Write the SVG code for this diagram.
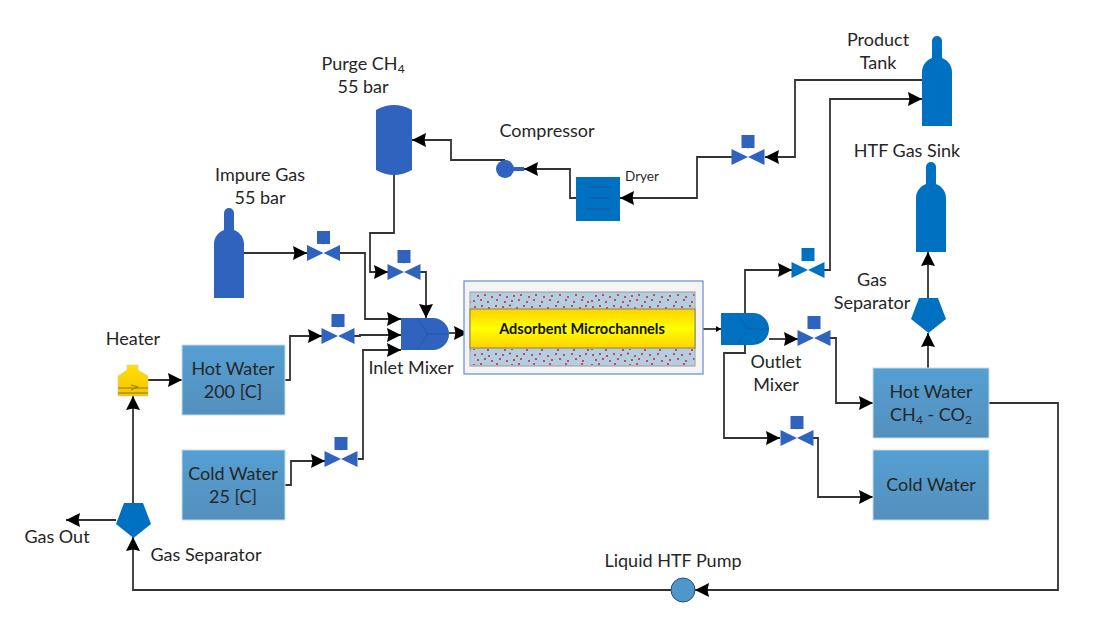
<svg xmlns="http://www.w3.org/2000/svg" width="1098" height="625" viewBox="0 0 1098 625">
<style>
text{font-family:"Lato","Open Sans","Liberation Sans",sans-serif;font-size:18px;fill:#262626;text-anchor:middle}
.c{fill:none;stroke:#333;stroke-width:1.8;marker-end:url(#a)}
.n{fill:none;stroke:#333;stroke-width:1.8}
.b1{fill:#2f63bd}.b2{fill:#0070c0}
.box{fill:url(#bx);stroke:#c9dbe9;stroke-width:1}
.in{fill:none;stroke:#1d4f9a;stroke-width:.8}
</style>
<defs>
<marker id="a" markerUnits="userSpaceOnUse" markerWidth="15" markerHeight="15" refX="14" refY="7.500" orient="auto"><path d="M0 .5L14 7.500L0 14.500L1.500 7.500Z" fill="#000"/></marker>
<marker id="s" markerUnits="userSpaceOnUse" markerWidth="6" markerHeight="6" refX="5" refY="3" orient="auto"><path d="M0 0L5 3L0 6Z" fill="#000"/></marker>
<linearGradient id="bx" x1="0" y1="0" x2="0" y2="1"><stop offset="0" stop-color="#559fd3"/><stop offset="1" stop-color="#5490bd"/></linearGradient>
<linearGradient id="yl" x1="0" y1="0" x2="0" y2="1"><stop offset="0" stop-color="#ffd200"/><stop offset=".5" stop-color="#ffff00"/><stop offset="1" stop-color="#ffd200"/></linearGradient>
<linearGradient id="ht" x1="0" y1="0" x2="0" y2="1"><stop offset="0" stop-color="#ffe000"/><stop offset="1" stop-color="#f5c400"/></linearGradient>
<pattern id="dots" width="118" height="16" patternUnits="userSpaceOnUse">
<rect width="118" height="16" fill="#b5cde0"/>
<g fill="#c8202f">
<circle cx="3" cy="3" r="1"/><circle cx="10" cy="2" r="1"/><circle cx="17" cy="4" r="1"/><circle cx="24" cy="2" r="1"/><circle cx="31" cy="3" r="1"/><circle cx="38" cy="1.500" r="1"/><circle cx="45" cy="4" r="1"/><circle cx="52" cy="2" r="1"/><circle cx="60" cy="3" r="1"/><circle cx="68" cy="2" r="1"/><circle cx="76" cy="4" r="1"/><circle cx="84" cy="2" r="1"/><circle cx="92" cy="3" r="1"/><circle cx="100" cy="2" r="1"/><circle cx="108" cy="4" r="1"/><circle cx="114" cy="2" r="1"/>
<circle cx="6" cy="8" r="1"/><circle cx="13" cy="7" r="1"/><circle cx="20" cy="9" r="1"/><circle cx="28" cy="7" r="1"/><circle cx="35" cy="9" r="1"/><circle cx="42" cy="8" r="1"/><circle cx="49" cy="7" r="1"/><circle cx="57" cy="9" r="1"/><circle cx="64" cy="7" r="1"/><circle cx="72" cy="9" r="1"/><circle cx="80" cy="8" r="1"/><circle cx="88" cy="7" r="1"/><circle cx="96" cy="9" r="1"/><circle cx="104" cy="7" r="1"/><circle cx="111" cy="9" r="1"/>
<circle cx="2" cy="13" r="1"/><circle cx="9" cy="12" r="1"/><circle cx="16" cy="14" r="1"/><circle cx="25" cy="12" r="1"/><circle cx="33" cy="14" r="1"/><circle cx="40" cy="13" r="1"/><circle cx="47" cy="12" r="1"/><circle cx="55" cy="14" r="1"/><circle cx="62" cy="12" r="1"/><circle cx="70" cy="14" r="1"/><circle cx="78" cy="12" r="1"/><circle cx="86" cy="14" r="1"/><circle cx="94" cy="12" r="1"/><circle cx="102" cy="14" r="1"/><circle cx="110" cy="12" r="1"/><circle cx="116" cy="14" r="1"/>
</g>
</pattern>
<g id="valve"><path d="M0 -8V-22" stroke="#c8d4e6" stroke-width="1.500" fill="none"/><rect x="-6.500" y="-22" width="13" height="13" class="b1"/><path d="M-16.500 -8L0 0L-16.500 8ZM16.500 -8L0 0L16.500 8Z" class="b1"/></g>
<g id="valve2"><path d="M0 -8V-22" stroke="#c8d4e6" stroke-width="1.500" fill="none"/><rect x="-6.500" y="-22" width="13" height="13" class="b2"/><path d="M-16.500 -8L0 0L-16.500 8ZM16.500 -8L0 0L16.500 8Z" class="b2"/></g>
<path id="cyl" d="M10 22V5a5 5 0 0 1 10 0V22C26 24 30 30 30 36V90H0V36C0 30 4 24 10 22Z"/>
<path id="sep" d="M8 0H27L35 21L17.500 35L0 21Z"/>
<g id="mixer"><path d="M0 0H32A16 16 0 0 1 32 32H0Z"/><path d="M16 0L27 16L16 32M27 16H47" fill="none" stroke="#1d4f9a" stroke-opacity=".7" stroke-width=".8"/></g>
</defs>
<rect width="1098" height="625" fill="#fff"/>

<g id="connectors">
<path class="c" d="M244 253H307"/>
<path class="c" d="M340 253H365V319H401"/>
<path class="c" d="M394 175V233H370V272H388"/>
<path class="c" d="M420 272H426V318"/>
<path class="c" d="M285 380H290V336H322"/>
<path class="c" d="M354 336H360V335H401"/>
<path class="c" d="M285 485H291V461H325"/>
<path class="c" d="M358 459H363V350H401"/>
<path class="c" d="M449 333H468"/>
<path class="n" style="marker-end:url(#s)" d="M693 329H721"/>
<path class="c" d="M745 313V270H792"/>
<path class="c" d="M824 270H830V99H922"/>
<path class="c" d="M769 339H798"/>
<path class="c" d="M830 338H836V403H873"/>
<path class="c" d="M745 345V353H724V438H780"/>
<path class="c" d="M813 438H818V497H873"/>
<path class="c" d="M928 368V333"/>
<path class="c" d="M928 298V252"/>
<path class="c" d="M989 403H1058V590H695"/>
<path class="c" d="M671 590H133V537"/>
<path class="c" d="M116 520H66"/>
<path class="c" d="M133 503V396"/>
<path class="c" d="M148 380H182"/>
<path class="c" d="M922 80H795V157H765"/>
<path class="c" d="M732 157H697V198H620"/>
<path class="c" d="M576 198H570V169H524"/>
<path class="c" d="M505 160H451V140H412"/>
</g>

<g id="impure-gas"><use href="#cyl" x="214" y="208" class="b1"/><text x="260" y="181">Impure Gas</text><text x="260" y="204">55 bar</text></g>
<g id="purge-tank"><path class="b1" d="M376 110Q394 100 412 110V170Q394 180 376 170Z"/><text x="363" y="70">Purge CH<tspan font-size="12" dy="3">4</tspan></text><text x="363" y="93">55 bar</text></g>
<g id="product-tank"><use href="#cyl" x="922" y="36" class="b2"/><text x="878" y="46">Product</text><text x="878" y="69">Tank</text></g>
<g id="htf-sink"><use href="#cyl" x="916" y="162" class="b2"/><text x="907" y="157">HTF Gas Sink</text></g>

<use id="valve-impure" href="#valve" x="323.500" y="253"/>
<use id="valve-purge" href="#valve" x="404" y="272"/>
<use id="valve-hot" href="#valve" x="338" y="336"/>
<use id="valve-cold" href="#valve" x="341" y="459"/>
<use id="valve-product" href="#valve" x="748" y="157"/>
<use id="valve-out-top" href="#valve2" x="808" y="270"/>
<use id="valve-out-mid" href="#valve" x="814" y="338"/>
<use id="valve-out-low" href="#valve" x="797" y="438"/>

<g id="inlet-mixer"><use href="#mixer" x="401" y="318" class="b1"/><text x="411" y="374">Inlet Mixer</text></g>
<g id="outlet-mixer"><use href="#mixer" x="721" y="313" class="b2"/><text x="776" y="368">Outlet</text><text x="776" y="391">Mixer</text></g>

<g id="microchannels">
<rect x="464" y="281" width="239" height="93" fill="#f4f4f4" stroke="#7096d8" stroke-width="1.300"/>
<rect x="470" y="292" width="225" height="74" fill="#b5cde0" stroke="#9a9a9a"/>
<rect x="470.500" y="293" width="224" height="16" fill="url(#dots)"/>
<rect x="470.500" y="349" width="224" height="16" fill="url(#dots)"/>
<rect x="470" y="309" width="225" height="39" fill="url(#yl)" stroke="#8a8250"/>
<text x="582" y="334" style="font-size:14.500px;font-weight:700;fill:#111">Adsorbent Microchannels</text>
</g>

<g id="hot-water-200"><rect class="box" x="182" y="345" width="103" height="70"/><text x="233" y="375">Hot Water</text><text x="233" y="398">200 [C]</text></g>
<g id="cold-water-25"><rect class="box" x="182" y="450" width="103" height="70"/><text x="233" y="480">Cold Water</text><text x="233" y="503">25 [C]</text></g>
<g id="hot-water-ch4"><rect class="box" x="873" y="368" width="116" height="70"/><text x="931" y="398">Hot Water</text><text x="931" y="421">CH<tspan font-size="12" dy="3">4</tspan><tspan dy="-3"> - CO</tspan><tspan font-size="12" dy="3">2</tspan></text></g>
<g id="cold-water"><rect class="box" x="873" y="450" width="116" height="70"/><text x="931" y="491">Cold Water</text></g>

<g id="heater"><path d="M127 365H138V370L148 376V396H118V376L127 370Z" fill="url(#ht)" stroke="#c9c9c9" stroke-width=".6"/><path d="M118 388H148M118 393H148M131 385L138 387L131 390" fill="none" stroke="#8a7a10" stroke-width="1"/><text x="133" y="345">Heater</text></g>
<g id="gas-separator-left"><use href="#sep" x="116" y="503" class="b2"/><text x="206" y="561">Gas Separator</text><text x="57" y="543">Gas Out</text></g>
<g id="gas-separator-right"><use href="#sep" x="911" y="298" class="b2"/><text x="872" y="286">Gas</text><text x="872" y="309">Separator</text></g>
<g id="pump"><circle cx="683" cy="590" r="12" fill="#4f97c9" stroke="#1f4f7f" stroke-width="1"/><text x="673" y="567">Liquid HTF Pump</text></g>
<g id="compressor"><circle cx="505" cy="169" r="9" class="b1"/><rect x="513" y="167" width="11" height="4" class="b1"/><text x="547" y="137">Compressor</text></g>
<g id="dryer"><rect x="576" y="177" width="44" height="44" class="b2"/><path class="in" d="M587 187H610M587 198H610M587 209H610"/><text x="642" y="181" style="font-size:13.500px">Dryer</text></g>
</svg>
